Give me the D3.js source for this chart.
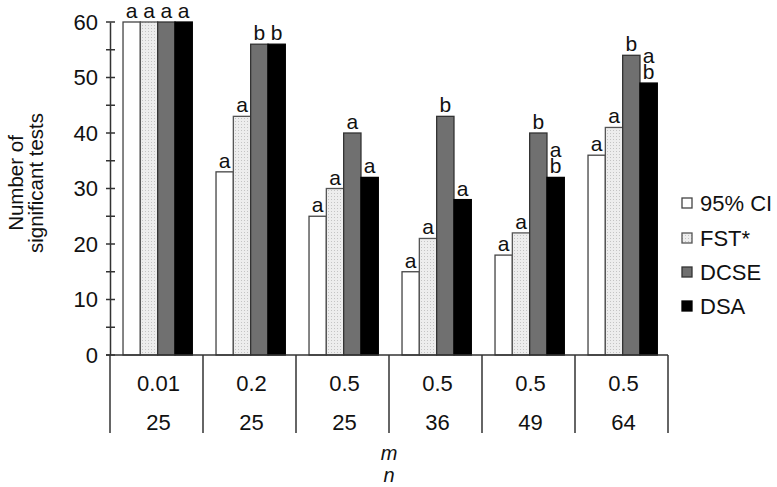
<!DOCTYPE html>
<html>
<head>
<meta charset="utf-8">
<script src="https://cdn.jsdelivr.net/npm/d3@7"></script>
<style>
  html, body { margin: 0; padding: 0; background: #fff; }
  svg { display: block; font-family: Arial, "Liberation Sans", sans-serif; }
</style>
</head>
<body>
<svg id="chart" width="777" height="487"></svg>
<script>
// ---- data ----
const mValues = ["0.01", "0.2", "0.5", "0.5", "0.5", "0.5"];
const nValues = ["25", "25", "25", "36", "49", "64"];
const seriesNames = ["95% CI", "FST*", "DCSE", "DSA"];
const ci95 = [60, 33, 25, 15, 18, 36];
const fst = [60, 43, 30, 21, 22, 41];
const dcse = [60, 56, 40, 43, 40, 54];
const dsa = [60, 56, 32, 28, 32, 49];
const ci95Letters = ["a", "a", "a", "a", "a", "a"];
const fstLetters = ["a", "a", "a", "a", "a", "a"];
const dcseLetters = ["a", "b", "a", "b", "b", "b"];
const dsaLetters = ["a", "b", "a", "a", "ab", "ab"];
const yTicks = [0, 10, 20, 30, 40, 50, 60];
const yMinorTicks = [5, 15, 25, 35, 45, 55];

const seriesValues = [ci95, fst, dcse, dsa];
const seriesLetters = [ci95Letters, fstLetters, dcseLetters, dsaLetters];
const groups = mValues.map((m, i) => i);

const svg = d3.select("#chart");
const FS = 22;
const LFS = 21;

// pattern for FST*
const defs = svg.append("defs");
const pat = defs.append("pattern").attr("id", "dots").attr("patternUnits", "userSpaceOnUse")
  .attr("width", 3).attr("height", 3);
pat.append("rect").attr("width", 3).attr("height", 3).attr("fill", "#ededed");
pat.append("rect").attr("x", 1).attr("y", 1).attr("width", 1).attr("height", 1).attr("fill", "#c4c4c4");

const fills = ["#ffffff", "url(#dots)", "#707070", "#000000"];
const strokes = ["#444", "#555", "#333", "#000"];

const plotLeft = 110, plotRight = 668, plotTop = 22, plotBottom = 355;
const y = d3.scaleLinear().domain([0, 60]).range([plotBottom, plotTop]);
const x0 = d3.scaleBand().domain(groups).range([plotLeft, plotRight]).padding(0);
const bw = x0.bandwidth();
const x1 = d3.scaleBand().domain(d3.range(4)).range([bw * 0.14, bw * 0.885]).padding(0);

// bars
const g = svg.append("g");
seriesValues.forEach((vals, s) => {
  g.selectAll(".bar" + s).data(vals).enter().append("rect")
    .attr("x", (d, i) => x0(i) + x1(s))
    .attr("y", d => y(d))
    .attr("width", x1.bandwidth())
    .attr("height", d => y(0) - y(d))
    .attr("fill", fills[s])
    .attr("stroke", strokes[s])
    .attr("stroke-width", 1.3);
});

// significance letters (stacked letters in one text element)
seriesLetters.forEach((letters, s) => {
  letters.forEach((L, i) => {
    const cx = x0(i) + x1(s) + x1.bandwidth() / 2;
    const chars = L.split("");
    const baseY = y(seriesValues[s][i]) - 4 - (chars.length - 1) * 16;
    const t = svg.append("text")
      .attr("x", cx)
      .attr("y", baseY)
      .attr("text-anchor", "middle")
      .attr("font-size", LFS)
      .attr("fill", "#111");
    chars.forEach((c, k) => {
      t.append("tspan").attr("x", cx).attr("dy", k === 0 ? 0 : 16).text(c);
    });
  });
});

// y axis
const yAxis = d3.axisLeft(y).tickValues(yTicks).tickSize(0).tickPadding(12);
const ya = svg.append("g").attr("transform", `translate(${plotLeft},0)`).call(yAxis);
ya.select(".domain").attr("stroke", "#333").attr("stroke-width", 1.5);
ya.selectAll("text").attr("font-size", FS).attr("font-family", "Arial, 'Liberation Sans', sans-serif").attr("fill", "#111");
const allTicks = yTicks.concat(yMinorTicks);
svg.append("g").selectAll("line").data(allTicks).enter().append("line")
  .attr("x1", plotLeft - 4).attr("x2", plotLeft + 5)
  .attr("y1", d => y(d)).attr("y2", d => y(d))
  .attr("stroke", "#333").attr("stroke-width", 1.5);

// x axis line
svg.append("line").attr("x1", plotLeft - 4).attr("x2", plotRight).attr("y1", plotBottom).attr("y2", plotBottom)
  .attr("stroke", "#333").attr("stroke-width", 1.5);

// table separators
const bounds = groups.map(i => x0(i)).concat([plotRight]);
svg.append("g").selectAll("line").data(bounds).enter().append("line")
  .attr("x1", d => d).attr("x2", d => d).attr("y1", plotBottom).attr("y2", 433)
  .attr("stroke", "#333").attr("stroke-width", 1.5);

// table labels
svg.append("g").selectAll("text").data(mValues).enter().append("text")
  .attr("x", (d, i) => x0(i) + bw / 2 + 2).attr("y", 391)
  .attr("text-anchor", "middle").attr("font-size", FS).attr("fill", "#111").text(d => d);
svg.append("g").selectAll("text").data(nValues).enter().append("text")
  .attr("x", (d, i) => x0(i) + bw / 2 + 2).attr("y", 430)
  .attr("text-anchor", "middle").attr("font-size", FS).attr("fill", "#111").text(d => d);

// m / n labels
svg.append("text").attr("x", (plotLeft + plotRight) / 2).attr("y", 460).attr("text-anchor", "middle")
  .attr("font-size", 20).attr("font-style", "italic").attr("fill", "#111").text("m");
svg.append("text").attr("x", (plotLeft + plotRight) / 2).attr("y", 482).attr("text-anchor", "middle")
  .attr("font-size", 20).attr("font-style", "italic").attr("fill", "#111").text("n");

// y-axis title
const yt = svg.append("text").attr("transform", "translate(23,183) rotate(-90)")
  .attr("text-anchor", "middle").attr("font-size", 20.5).attr("fill", "#111");
yt.append("tspan").attr("x", 0).attr("dy", 0).text("Number of");
yt.append("tspan").attr("x", 0).attr("dy", 20).text("significant tests");

// legend
const legY = [203, 238, 272, 306];
const leg = svg.append("g");
seriesNames.forEach((name, s) => {
  leg.append("rect").attr("x", 682).attr("y", legY[s] - 5).attr("width", 10).attr("height", 10)
    .attr("fill", fills[s]).attr("stroke", strokes[s]).attr("stroke-width", 1.3);
  leg.append("text").attr("x", 700).attr("y", legY[s] + 8).attr("font-size", FS)
    .attr("fill", "#111").text(name);
});
</script>
</body>
</html>
